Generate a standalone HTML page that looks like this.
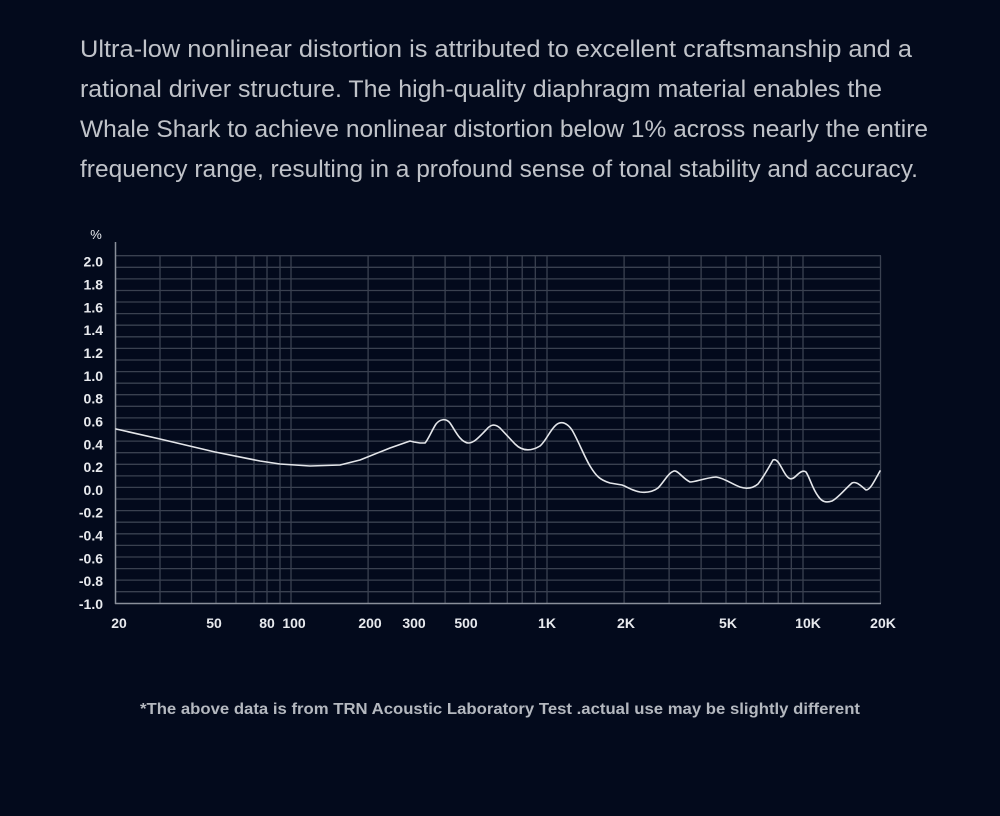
<!DOCTYPE html>
<html><head><meta charset="utf-8"><style>
html,body{margin:0;padding:0;background:#030a1c;}
svg{display:block}
</style></head><body>
<svg width="1000" height="816" viewBox="0 0 1000 816" xmlns="http://www.w3.org/2000/svg">
<rect width="1000" height="816" fill="#030a1c"/>
<g font-family="Liberation Sans, sans-serif" font-size="24" fill="#c0c3c9">
<text x="80" y="57" textLength="832" lengthAdjust="spacingAndGlyphs">Ultra-low nonlinear distortion is attributed to excellent craftsmanship and a</text>
<text x="80" y="97" textLength="802" lengthAdjust="spacingAndGlyphs">rational driver structure. The high-quality diaphragm material enables the</text>
<text x="80" y="137" textLength="848" lengthAdjust="spacingAndGlyphs">Whale Shark to achieve nonlinear distortion below 1% across nearly the entire</text>
<text x="80" y="177" textLength="838" lengthAdjust="spacingAndGlyphs">frequency range, resulting in a profound sense of tonal stability and accuracy.</text>
</g>
<path stroke="#3a4150" stroke-width="1.3" fill="none" d="
M115 255.7H881M115 267.3H881M115 278.9H881M115 290.5H881M115 302H881M115 313.6H881M115 325.2H881M115 336.8H881M115 348.4H881M115 360H881
M115 371.6H881M115 383.2H881M115 394.7H881M115 406.3H881M115 417.9H881M115 429.5H881M115 441.1H881M115 452.7H881M115 464.3H881M115 475.9H881
M115 487.4H881M115 499H881M115 510.6H881M115 522.2H881M115 533.8H881M115 545.4H881M115 557H881M115 568.6H881M115 580.1H881M115 591.7H881
M160 255.7V603M191.5 255.7V603M216 255.7V603M236 255.7V603M254 255.7V603M267 255.7V603M280 255.7V603M291 255.7V603
M368.1 255.7V603M413.1 255.7V603M445.1 255.7V603M470 255.7V603M490.2 255.7V603M507.3 255.7V603M522.2 255.7V603M535.3 255.7V603M547 255.7V603
M624.1 255.7V603M669.1 255.7V603M701.1 255.7V603M726 255.7V603M746.2 255.7V603M763.3 255.7V603M778.2 255.7V603M791.3 255.7V603M803 255.7V603M880.5 255.7V603"/>
<line x1="115.5" y1="242" x2="115.5" y2="604" stroke="#8a8f9a" stroke-width="1.5"/>
<line x1="115" y1="603.5" x2="881" y2="603.5" stroke="#8a8f9a" stroke-width="1.5"/>
<g font-family="Liberation Sans, sans-serif" font-size="14" font-weight="bold" fill="#e8eaee" text-anchor="end">
<text x="103" y="266.7">2.0</text><text x="103" y="289.5">1.8</text><text x="103" y="312.3">1.6</text><text x="103" y="335.2">1.4</text>
<text x="103" y="358">1.2</text><text x="103" y="380.8">1.0</text><text x="103" y="403.6">0.8</text><text x="103" y="426.4">0.6</text>
<text x="103" y="449.3">0.4</text><text x="103" y="472.1">0.2</text><text x="103" y="494.9">0.0</text><text x="103" y="517.7">-0.2</text>
<text x="103" y="540.5">-0.4</text><text x="103" y="563.4">-0.6</text><text x="103" y="586.2">-0.8</text><text x="103" y="609">-1.0</text>
</g>
<text x="96" y="239" font-family="Liberation Sans, sans-serif" font-size="13" fill="#e8eaee" text-anchor="middle">%</text>
<g font-family="Liberation Sans, sans-serif" font-size="14" font-weight="bold" fill="#e8eaee" text-anchor="middle">
<text x="119" y="628">20</text><text x="214" y="628">50</text><text x="267" y="628">80</text><text x="294" y="628">100</text>
<text x="370" y="628">200</text><text x="414" y="628">300</text><text x="466" y="628">500</text><text x="547" y="628">1K</text>
<text x="626" y="628">2K</text><text x="728" y="628">5K</text><text x="808" y="628">10K</text><text x="883" y="628">20K</text>
</g>
<path fill="none" stroke="#e4e6ea" stroke-width="1.6" stroke-linejoin="round" stroke-linecap="round" d="M116,429 L160,439 L215,452 L260,461 L280,464 L310,466 L340,465 L360,460 L390,448 L410,441 L414,442 L420,443 L425,443 C428,440 432,430 436,424 C440,419 446,418 450,423 C455,430 460,442 468,443 C474,443 478,438 486,430 C490,425 494,423 500,428 L515,444 C522,451 530,452 540,446 C546,441 550,430 556,425 C562,420 568,424 572,430 C578,440 584,456 590,466 C596,476 600,480 610,483 L622,485 C628,487 630,490 640,492 C648,493 654,491 658,488 C664,482 668,473 674,471 C678,470 682,478 690,482 C696,482 704,478 716,477 C724,478 732,484 740,487 C746,489 752,489 758,484 C762,479 768,469 773,460 C777,458 780,465 784,472 C788,479 791,481 796,476 C800,472 803,470 806,472 C810,478 812,488 818,496 C822,502 826,503 832,501 C838,498 844,490 852,483 C856,481 860,485 866,490 C870,490 874,482 880,471"/>
<text x="500" y="714" font-family="Liberation Sans, sans-serif" font-size="15.5" font-weight="bold" fill="#b4b8bf" text-anchor="middle" textLength="720" lengthAdjust="spacingAndGlyphs">*The above data is from TRN Acoustic Laboratory Test .actual use may be slightly different</text>
</svg>
</body></html>
